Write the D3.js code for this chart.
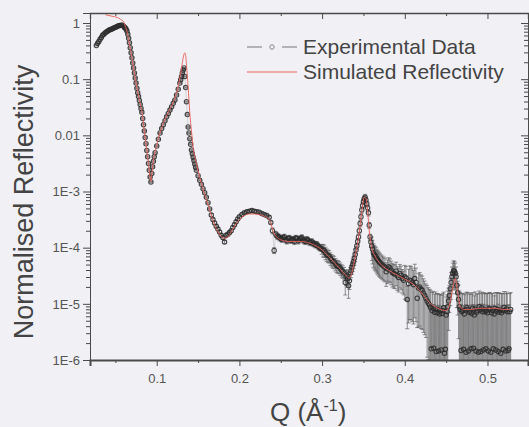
<!DOCTYPE html>
<html>
<head>
<meta charset="utf-8">
<script src="https://cdn.jsdelivr.net/npm/d3@7"></script>
<style>
	html, body { margin: 0; padding: 0; background: #f0f0f5; }
	svg { display: block; }
	text { font-family: Arial, "Liberation Sans", sans-serif; }
</style>
</head>
<body>
<svg id="chart" width="529" height="427"></svg>
<script>
//刻度
var xMajorTicks = [0.1, 0.2, 0.3, 0.4, 0.5];
var xMinorTicks = [0.05, 0.15, 0.25, 0.35, 0.45];
var yMajorTicks = [1, 0.1, 0.01, 1e-3, 1e-4, 1e-5, 1e-6];
var yTickLabels = ["1", "0.1", "0.01", "1E-3", "1E-4", "1E-5", "1E-6"];
var legendLabels = ["Experimental Data", "Simulated Reflectivity"];

//实验数据 [Q, R, 相对误差]
var experimental = [
	[0.027, 0.398, 0.02], [0.0285, 0.437, 0.02], [0.030, 0.468, 0.02], [0.0315, 0.513, 0.02], [0.033, 0.550, 0.02],
	[0.0345, 0.603, 0.02], [0.036, 0.631, 0.02], [0.0375, 0.661, 0.02], [0.039, 0.692, 0.02], [0.0405, 0.716, 0.02],
	[0.042, 0.741, 0.02], [0.0435, 0.759, 0.02], [0.045, 0.776, 0.02], [0.0465, 0.794, 0.02], [0.048, 0.813, 0.02],
	[0.0495, 0.832, 0.02], [0.051, 0.851, 0.02], [0.0525, 0.871, 0.02], [0.054, 0.891, 0.02], [0.0555, 0.902, 0.02],
	[0.057, 0.912, 0.02], [0.0585, 0.912, 0.02], [0.060, 0.871, 0.02], [0.061, 0.832, 0.02], [0.062, 0.813, 0.02],
	[0.063, 0.776, 0.02], [0.064, 0.724, 0.02], [0.065, 0.631, 0.02], [0.066, 0.537, 0.02], [0.067, 0.447, 0.02],
	[0.068, 0.363, 0.02], [0.069, 0.295, 0.02], [0.070, 0.240, 0.02], [0.071, 0.195, 0.02], [0.072, 0.158, 0.02],
	[0.073, 0.129, 0.02], [0.074, 0.105, 0.02], [0.075, 0.0851, 0.02], [0.076, 0.0692, 0.02], [0.077, 0.0575, 0.02],
	[0.078, 0.0490, 0.02], [0.079, 0.0417, 0.02], [0.080, 0.0355, 0.02], [0.081, 0.0302, 0.02], [0.082, 0.0257, 0.02],
	[0.083, 0.0200, 0.02], [0.084, 0.0155, 0.02], [0.085, 0.0120, 0.02], [0.086, 9.12e-3, 0.02], [0.087, 7.08e-3, 0.02],
	[0.088, 5.37e-3, 0.02], [0.089, 4.17e-3, 0.02], [0.090, 3.16e-3, 0.02], [0.091, 2.40e-3, 0.02], [0.092, 1.82e-3, 0.02],
	[0.093, 1.48e-3, 0.02], [0.094, 2.09e-3, 0.02], [0.095, 2.75e-3, 0.02], [0.096, 3.47e-3, 0.02], [0.097, 4.17e-3, 0.02],
	[0.098, 4.90e-3, 0.02], [0.100, 6.46e-3, 0.02], [0.102, 8.51e-3, 0.02], [0.104, 0.0110, 0.02], [0.106, 0.0132, 0.02],
	[0.108, 0.0155, 0.02], [0.110, 0.0182, 0.02], [0.112, 0.0214, 0.02], [0.114, 0.0245, 0.02], [0.116, 0.0282, 0.02],
	[0.118, 0.0324, 0.02], [0.120, 0.0372, 0.02], [0.122, 0.0427, 0.02], [0.124, 0.0525, 0.02], [0.126, 0.0661, 0.02],
	[0.128, 0.0851, 0.02], [0.129, 0.0977, 0.02], [0.130, 0.112, 0.02], [0.131, 0.129, 0.02], [0.132, 0.145, 0.02],
	[0.133, 0.158, 0.02], [0.134, 0.112, 0.02], [0.135, 0.0708, 0.02], [0.136, 0.0398, 0.02], [0.137, 0.0234, 0.02],
	[0.138, 0.0141, 0.02], [0.139, 0.0110, 0.02], [0.140, 8.71e-3, 0.02], [0.141, 6.92e-3, 0.02], [0.142, 5.50e-3, 0.02],
	[0.143, 4.68e-3, 0.02], [0.144, 4.07e-3, 0.02], [0.145, 3.55e-3, 0.02], [0.146, 3.09e-3, 0.02], [0.147, 2.69e-3, 0.02],
	[0.148, 2.40e-3, 0.02], [0.150, 1.91e-3, 0.02], [0.152, 1.58e-3, 0.02], [0.154, 1.35e-3, 0.02], [0.156, 1.12e-3, 0.02],
	[0.158, 9.55e-4, 0.02], [0.160, 7.94e-4, 0.02], [0.162, 6.31e-4, 0.02], [0.164, 4.90e-4, 0.02], [0.166, 3.80e-4, 0.06],
	[0.168, 3.16e-4, 0.06], [0.170, 2.75e-4, 0.06], [0.172, 2.40e-4, 0.06], [0.174, 2.14e-4, 0.06], [0.176, 1.91e-4, 0.06],
	[0.178, 1.66e-4, 0.06], [0.180, 1.51e-4, 0.06], [0.182, 1.26e-4, 0.06], [0.184, 1.66e-4, 0.06], [0.186, 1.74e-4, 0.06],
	[0.188, 1.86e-4, 0.06], [0.190, 2.00e-4, 0.06], [0.192, 2.29e-4, 0.06], [0.194, 2.57e-4, 0.06], [0.196, 2.88e-4, 0.06],
	[0.198, 3.24e-4, 0.06], [0.200, 3.55e-4, 0.06], [0.203, 3.89e-4, 0.06], [0.206, 4.17e-4, 0.06], [0.209, 4.37e-4, 0.06],
	[0.212, 4.47e-4, 0.06], [0.215, 4.57e-4, 0.06], [0.218, 4.47e-4, 0.06], [0.221, 4.37e-4, 0.06], [0.224, 4.27e-4, 0.06],
	[0.227, 4.07e-4, 0.06], [0.230, 3.89e-4, 0.06], [0.233, 3.72e-4, 0.06], [0.236, 3.47e-4, 0.06], [0.238, 2.82e-4, 0.06],
	[0.240, 2.00e-4, 0.12], [0.242, 8.91e-5, 0.12], [0.244, 1.74e-4, 0.12], [0.2455, 1.62e-4, 0.12], [0.247, 1.58e-4, 0.12],
	[0.2485, 1.51e-4, 0.12], [0.250, 1.45e-4, 0.12], [0.2515, 1.41e-4, 0.12], [0.253, 1.51e-4, 0.12], [0.2545, 1.55e-4, 0.12],
	[0.256, 1.38e-4, 0.12], [0.2575, 1.32e-4, 0.12], [0.259, 1.45e-4, 0.12], [0.2605, 1.48e-4, 0.12], [0.262, 1.35e-4, 0.12],
	[0.2635, 1.38e-4, 0.12], [0.265, 1.41e-4, 0.12], [0.2665, 1.29e-4, 0.12], [0.268, 1.48e-4, 0.12], [0.2695, 1.45e-4, 0.12],
	[0.271, 1.32e-4, 0.12], [0.2725, 1.38e-4, 0.12], [0.274, 1.45e-4, 0.12], [0.2755, 1.51e-4, 0.12], [0.277, 1.38e-4, 0.12],
	[0.2785, 1.32e-4, 0.12], [0.280, 1.29e-4, 0.12], [0.2815, 1.41e-4, 0.12], [0.283, 1.35e-4, 0.12], [0.2845, 1.26e-4, 0.12],
	[0.286, 1.23e-4, 0.12], [0.2875, 1.29e-4, 0.12], [0.289, 1.20e-4, 0.12], [0.2905, 1.17e-4, 0.12], [0.292, 1.12e-4, 0.12],
	[0.2935, 1.15e-4, 0.12], [0.295, 1.07e-4, 0.12], [0.2965, 1.02e-4, 0.12], [0.298, 9.77e-5, 0.12], [0.2995, 9.55e-5, 0.2],
	[0.301, 9.12e-5, 0.25], [0.3025, 8.91e-5, 0.25], [0.304, 8.13e-5, 0.25], [0.3055, 7.59e-5, 0.25], [0.307, 7.24e-5, 0.25],
	[0.3085, 7.08e-5, 0.25], [0.310, 6.46e-5, 0.25], [0.3115, 6.03e-5, 0.25], [0.313, 5.75e-5, 0.25], [0.3145, 5.62e-5, 0.25],
	[0.316, 5.13e-5, 0.25], [0.3175, 4.79e-5, 0.25], [0.319, 4.68e-5, 0.25], [0.3205, 4.57e-5, 0.25], [0.322, 4.27e-5, 0.25],
	[0.3235, 3.98e-5, 0.25], [0.325, 3.80e-5, 0.25], [0.3265, 3.55e-5, 0.25], [0.328, 2.40e-5, 0.4], [0.329, 3.02e-5, 0.3],
	[0.330, 3.24e-5, 0.25], [0.331, 2.82e-5, 0.3], [0.332, 2.09e-5, 0.4], [0.333, 2.57e-5, 0.3], [0.334, 3.55e-5, 0.25],
	[0.335, 3.89e-5, 0.25], [0.336, 4.47e-5, 0.25], [0.337, 5.01e-5, 0.25], [0.338, 5.62e-5, 0.25], [0.339, 6.46e-5, 0.25],
	[0.340, 7.59e-5, 0.25], [0.341, 9.12e-5, 0.15], [0.342, 1.07e-4, 0.12], [0.343, 1.29e-4, 0.12], [0.344, 1.55e-4, 0.12],
	[0.345, 2.00e-4, 0.12], [0.346, 2.69e-4, 0.12], [0.347, 3.55e-4, 0.12], [0.348, 4.68e-4, 0.12], [0.349, 5.62e-4, 0.12],
	[0.350, 6.61e-4, 0.12], [0.351, 7.41e-4, 0.12], [0.352, 7.94e-4, 0.12], [0.353, 7.08e-4, 0.12], [0.354, 6.03e-4, 0.12],
	[0.355, 5.13e-4, 0.12], [0.356, 4.17e-4, 0.12], [0.357, 2.51e-4, 0.12], [0.358, 1.55e-4, 0.12], [0.359, 1.26e-4, 0.2],
	[0.360, 1.07e-4, 0.45], [0.361, 9.33e-5, 0.45], [0.362, 8.13e-5, 0.45], [0.363, 7.59e-5, 0.45], [0.364, 7.24e-5, 0.45],
	[0.365, 6.92e-5, 0.45], [0.366, 6.46e-5, 0.45], [0.367, 6.17e-5, 0.45], [0.368, 5.89e-5, 0.45], [0.369, 5.62e-5, 0.45],
	[0.370, 5.37e-5, 0.45], [0.3715, 5.13e-5, 0.45], [0.373, 4.90e-5, 0.45], [0.3745, 4.68e-5, 0.45], [0.376, 4.47e-5, 0.45],
	[0.3775, 3.72e-5, 0.45], [0.379, 4.17e-5, 0.45], [0.3805, 4.57e-5, 0.45], [0.382, 4.37e-5, 0.45], [0.3835, 3.98e-5, 0.45],
	[0.385, 3.63e-5, 0.45], [0.3865, 3.47e-5, 0.45], [0.388, 3.39e-5, 0.45], [0.3895, 3.80e-5, 0.45], [0.391, 3.16e-5, 0.45],
	[0.3925, 2.95e-5, 0.45], [0.394, 3.47e-5, 0.45], [0.3955, 3.24e-5, 0.45], [0.397, 2.82e-5, 0.45], [0.3985, 2.63e-5, 0.45],
	[0.400, 3.02e-5, 0.6], [0.4015, 2.88e-5, 0.6], [0.403, 1.20e-5, 0.7], [0.4045, 2.29e-5, 0.8], [0.406, 2.63e-5, 0.8],
	[0.4075, 2.57e-5, 0.8], [0.409, 2.40e-5, 0.8], [0.4105, 2.19e-5, 0.8], [0.412, 2.82e-5, 0.8], [0.4135, 2.40e-5, 0.8],
	[0.415, 1.26e-5, 0.7], [0.4165, 1.91e-5, 0.8], [0.418, 2.00e-5, 0.8], [0.4195, 1.82e-5, 0.8], [0.421, 1.74e-5, 0.8],
	[0.4225, 1.55e-5, 0.8], [0.424, 1.41e-5, 0.8], [0.4255, 1.26e-5, 0.8], [0.427, 1.12e-5, 0.9], [0.4285, 1.02e-5, 0.9],
	[0.430, 9.55e-6, 0.9], [0.431, 8.71e-6, 1.0], [0.432, 1.58e-6, 5.0], [0.433, 7.59e-6, 1.1], [0.434, 8.32e-6, 1.0],
	[0.435, 1.62e-6, 5.0], [0.436, 7.08e-6, 1.1], [0.437, 8.13e-6, 1.0], [0.438, 1.41e-6, 5.5], [0.439, 6.92e-6, 1.2],
	[0.440, 7.94e-6, 0.9], [0.441, 1.45e-6, 5.5], [0.442, 6.61e-6, 1.2], [0.443, 7.41e-6, 1.0], [0.444, 1.51e-6, 5.0],
	[0.445, 6.76e-6, 1.1], [0.446, 7.59e-6, 1.0], [0.447, 8.51e-6, 0.9], [0.448, 1.32e-6, 6.0], [0.449, 1.55e-6, 5.0],
	[0.450, 6.31e-6, 1.1], [0.451, 7.24e-6, 1.0], [0.452, 8.91e-6, 0.9], [0.453, 1.12e-5, 0.7], [0.454, 1.41e-5, 0.5],
	[0.455, 1.86e-5, 0.5], [0.456, 2.40e-5, 0.5], [0.457, 3.02e-5, 0.5], [0.458, 3.55e-5, 0.5], [0.459, 3.89e-5, 0.5],
	[0.460, 3.80e-5, 0.5], [0.461, 3.55e-5, 0.5], [0.462, 3.02e-5, 0.5], [0.463, 2.14e-5, 0.6], [0.464, 1.58e-5, 0.6],
	[0.465, 1.20e-5, 0.8], [0.466, 8.91e-6, 0.9], [0.467, 7.94e-6, 1.0], [0.468, 1.48e-6, 5.5], [0.469, 7.24e-6, 1.1],
	[0.470, 7.59e-6, 1.0], [0.471, 1.55e-6, 5.0], [0.472, 6.61e-6, 1.2], [0.473, 7.76e-6, 1.0], [0.474, 1.38e-6, 6.0],
	[0.475, 8.51e-6, 0.9], [0.476, 7.94e-6, 1.0], [0.477, 1.45e-6, 5.5], [0.478, 7.08e-6, 1.1], [0.479, 7.41e-6, 1.1],
	[0.480, 1.58e-6, 5.0], [0.481, 6.76e-6, 1.2], [0.482, 8.32e-6, 0.9], [0.483, 1.62e-6, 5.0], [0.484, 6.31e-6, 1.2],
	[0.485, 8.13e-6, 1.0], [0.486, 1.45e-6, 5.5], [0.487, 7.08e-6, 1.1], [0.488, 7.59e-6, 1.0], [0.489, 1.38e-6, 6.0],
	[0.490, 8.91e-6, 0.9], [0.491, 7.76e-6, 1.0], [0.492, 1.41e-6, 6.0], [0.493, 8.51e-6, 0.9], [0.494, 7.24e-6, 1.1],
	[0.495, 1.51e-6, 5.5], [0.496, 7.94e-6, 1.0], [0.497, 7.24e-6, 1.1], [0.498, 1.58e-6, 5.0], [0.499, 7.59e-6, 1.0],
	[0.500, 6.92e-6, 1.2], [0.501, 1.45e-6, 5.5], [0.502, 8.32e-6, 0.9], [0.503, 7.94e-6, 1.0], [0.504, 1.38e-6, 5.5],
	[0.505, 6.92e-6, 1.2], [0.506, 7.59e-6, 1.0], [0.507, 1.58e-6, 5.0], [0.508, 6.61e-6, 1.1], [0.509, 8.32e-6, 0.9],
	[0.510, 1.51e-6, 5.0], [0.511, 7.41e-6, 1.1], [0.512, 7.94e-6, 1.0], [0.513, 1.41e-6, 6.0], [0.514, 7.08e-6, 1.2],
	[0.515, 7.76e-6, 1.0], [0.516, 1.32e-6, 6.0], [0.517, 6.92e-6, 1.2], [0.518, 7.59e-6, 1.0], [0.519, 1.55e-6, 5.0],
	[0.520, 8.71e-6, 0.9], [0.521, 7.59e-6, 1.0], [0.522, 1.45e-6, 5.5], [0.523, 8.13e-6, 1.0], [0.524, 7.24e-6, 1.1],
	[0.525, 1.48e-6, 5.5], [0.526, 1.58e-6, 5.0], [0.527, 7.24e-6, 1.1], [0.528, 7.94e-6, 1.0]
];

//模拟曲线 [Q, R]
var simulated = [
	[0.038, 1.40], [0.046, 1.32], [0.052, 1.26], [0.056, 1.17], [0.060, 1.05], [0.062, 0.871], [0.064, 0.708],
	[0.066, 0.501], [0.068, 0.347], [0.070, 0.240], [0.072, 0.158], [0.074, 0.105], [0.076, 0.0708], [0.078, 0.0501],
	[0.080, 0.0372], [0.082, 0.0269], [0.084, 0.0158], [0.086, 9.33e-3], [0.088, 5.50e-3], [0.090, 3.16e-3],
	[0.092, 1.74e-3], [0.093, 1.51e-3], [0.094, 2.00e-3], [0.096, 3.55e-3], [0.098, 5.13e-3], [0.100, 6.76e-3],
	[0.104, 0.0112], [0.108, 0.0162], [0.112, 0.0224], [0.116, 0.0295], [0.120, 0.0389], [0.124, 0.0575],
	[0.128, 0.105], [0.130, 0.158], [0.132, 0.240], [0.134, 0.295], [0.135, 0.263], [0.136, 0.178], [0.138, 0.0708],
	[0.140, 0.0251], [0.142, 0.0120], [0.144, 6.31e-3], [0.146, 4.17e-3], [0.148, 3.16e-3], [0.152, 1.78e-3],
	[0.156, 1.10e-3], [0.160, 7.24e-4], [0.164, 4.68e-4], [0.168, 3.02e-4], [0.172, 2.19e-4], [0.176, 1.74e-4],
	[0.180, 1.48e-4], [0.184, 1.48e-4], [0.188, 1.70e-4], [0.192, 2.14e-4], [0.196, 2.69e-4], [0.200, 3.16e-4],
	[0.206, 3.72e-4], [0.212, 3.98e-4], [0.218, 3.98e-4], [0.224, 3.89e-4], [0.230, 3.63e-4], [0.235, 3.31e-4],
	[0.238, 2.75e-4], [0.241, 1.91e-4], [0.245, 1.55e-4], [0.250, 1.38e-4], [0.260, 1.29e-4], [0.270, 1.29e-4],
	[0.280, 1.26e-4], [0.290, 1.12e-4], [0.300, 9.12e-5], [0.310, 6.46e-5], [0.320, 4.47e-5], [0.328, 3.31e-5],
	[0.333, 2.88e-5], [0.336, 3.55e-5], [0.340, 7.08e-5], [0.344, 1.48e-4], [0.348, 4.37e-4], [0.351, 7.94e-4],
	[0.353, 7.59e-4], [0.355, 4.47e-4], [0.357, 2.00e-4], [0.360, 1.00e-4], [0.364, 7.08e-5], [0.370, 5.25e-5],
	[0.380, 3.98e-5], [0.390, 3.31e-5], [0.400, 2.75e-5], [0.410, 2.24e-5], [0.420, 1.58e-5], [0.430, 1.05e-5],
	[0.440, 8.32e-6], [0.450, 7.59e-6], [0.454, 9.55e-6], [0.458, 1.91e-5], [0.461, 2.82e-5], [0.464, 1.58e-5],
	[0.467, 8.91e-6], [0.472, 7.94e-6], [0.480, 7.94e-6], [0.490, 8.32e-6], [0.500, 8.32e-6], [0.510, 8.32e-6],
	[0.520, 7.94e-6], [0.528, 7.94e-6]
];

var svg = d3.select("#chart");
//绘图区边界 (不要用 top, 它是 window 的只读属性)
var pLeft = 90, pRight = 528, pTop = 13, pBottom = 360;

var x = d3.scaleLinear().domain([0.0193, 0.549]).range([pLeft, pRight]);
var y = d3.scaleLog().domain([1e-6, 1.507]).range([pBottom, pTop]);

var axisColor = "#4a4a4a";
var labelColor = "#555";

function clip() {
	svg.append("defs").append("clipPath")
		.attr("id", "plotClip")
		.append("rect")
		.attr("x", pLeft)
		.attr("y", pTop)
		.attr("width", pRight - pLeft)
		.attr("height", pBottom - pTop);
}

//坐标轴
function axes() {
	var yMinor = y.ticks().filter(function(d) {
		return yMajorTicks.indexOf(d) < 0;
	});

	function style(g, w) {
		g.select(".domain").attr("stroke", axisColor).attr("stroke-width", w || 1);
		g.selectAll(".tick line").attr("stroke", axisColor);
		g.selectAll(".tick text")
			.attr("fill", labelColor)
			.style("font-size", "13px");
	}

	function minor(g) {
		g.select(".domain").remove();
		g.selectAll("line").attr("stroke", axisColor);
	}

	//底部
	var gx = svg.append("g")
		.attr("transform", "translate(0," + pBottom + ")")
		.call(d3.axisBottom(x).tickValues(xMajorTicks).tickSize(6).tickPadding(8).tickFormat(d3.format("")));
	style(gx, 2);
	svg.append("g")
		.attr("transform", "translate(0," + pBottom + ")")
		.call(d3.axisBottom(x).tickValues(xMinorTicks).tickSize(3).tickFormat(""))
		.call(minor);

	//顶部
	var gt = svg.append("g")
		.attr("transform", "translate(0," + pTop + ")")
		.call(d3.axisTop(x).tickValues(xMajorTicks).tickSize(-6).tickFormat(""));
	style(gt, 1.3);
	svg.append("g")
		.attr("transform", "translate(0," + pTop + ")")
		.call(d3.axisTop(x).tickValues(xMinorTicks).tickSize(-3).tickFormat(""))
		.call(minor);

	//左侧
	var gy = svg.append("g")
		.attr("transform", "translate(" + pLeft + ",0)")
		.call(d3.axisLeft(y).tickValues(yMajorTicks).tickSize(7).tickPadding(3)
			.tickFormat(function(d, i) { return yTickLabels[i]; }));
	style(gy, 1);
	svg.append("g")
		.attr("transform", "translate(" + pLeft + ",0)")
		.call(d3.axisLeft(y).tickValues(yMinor).tickSize(4).tickFormat(""))
		.call(minor);

	//右侧
	var gr = svg.append("g")
		.attr("transform", "translate(" + pRight + ",0)")
		.call(d3.axisRight(y).tickValues(yMajorTicks).tickSize(-7).tickFormat(""));
	style(gr, 1);
	svg.append("g")
		.attr("transform", "translate(" + pRight + ",0)")
		.call(d3.axisRight(y).tickValues(yMinor).tickSize(-4).tickFormat(""))
		.call(minor);
}

//误差棒
function errorBars() {
	var g = svg.append("g").attr("clip-path", "url(#plotClip)");
	var yLow = function(d) {
		var lo = d[1] * (1 - d[2]);
		return lo > 0 ? y(lo) : pBottom + 10;
	};
	var yHigh = function(d) { return y(d[1] * (1 + d[2])); };
	var bars = g.selectAll("g.err")
		.data(experimental)
		.enter()
		.append("g")
		.attr("class", "err")
		.attr("stroke", "#555")
		.attr("stroke-opacity", 0.7)
		.attr("stroke-width", 0.9);
	bars.append("line")
		.attr("x1", function(d) { return x(d[0]); })
		.attr("x2", function(d) { return x(d[0]); })
		.attr("y1", yLow)
		.attr("y2", yHigh);
	bars.append("line")
		.attr("x1", function(d) { return x(d[0]) - 2; })
		.attr("x2", function(d) { return x(d[0]) + 2; })
		.attr("y1", yHigh)
		.attr("y2", yHigh);
	bars.append("line")
		.attr("x1", function(d) { return x(d[0]) - 2; })
		.attr("x2", function(d) { return x(d[0]) + 2; })
		.attr("y1", yLow)
		.attr("y2", yLow);
}

//实验点
function points() {
	var g = svg.append("g").attr("clip-path", "url(#plotClip)");
	var line = d3.line()
		.x(function(d) { return x(d[0]); })
		.y(function(d) { return y(d[1]); });
	g.append("path")
		.datum(experimental)
		.attr("d", line)
		.attr("fill", "none")
		.attr("stroke", "#777")
		.attr("stroke-opacity", 0.35)
		.attr("stroke-width", 0.7);
	g.selectAll("circle")
		.data(experimental)
		.enter()
		.append("circle")
		.attr("cx", function(d) { return x(d[0]); })
		.attr("cy", function(d) { return y(d[1]); })
		.attr("r", 2.2)
		.attr("fill", "none")
		.attr("stroke", "#2a2a2a")
		.attr("stroke-opacity", 0.85)
		.attr("stroke-width", 1.1);
}

//模拟曲线
function simLine() {
	var g = svg.append("g").attr("clip-path", "url(#plotClip)");
	var line = d3.line()
		.curve(d3.curveMonotoneX)
		.x(function(d) { return x(d[0]); })
		.y(function(d) { return y(d[1]); });
	g.append("path")
		.datum(simulated)
		.attr("d", line)
		.attr("fill", "none")
		.attr("stroke", "#e8625a")
		.attr("stroke-opacity", 0.9)
		.attr("stroke-width", 1);
}

//图例
function legend() {
	var g = svg.append("g");
	var x0 = 247, x1 = 297, tx = 303;
	var rows = [47, 72];
	g.append("line").attr("x1", x0).attr("x2", x0 + 15).attr("y1", rows[0]).attr("y2", rows[0])
		.attr("stroke", "#777").attr("stroke-width", 1);
	g.append("line").attr("x1", x1 - 15).attr("x2", x1).attr("y1", rows[0]).attr("y2", rows[0])
		.attr("stroke", "#777").attr("stroke-width", 1);
	g.append("circle").attr("cx", (x0 + x1) / 2).attr("cy", rows[0]).attr("r", 2.2)
		.attr("fill", "none").attr("stroke", "#888");
	g.append("line").attr("x1", x0).attr("x2", x1).attr("y1", rows[1]).attr("y2", rows[1])
		.attr("stroke", "#e8625a").attr("stroke-width", 1);
	g.selectAll("text")
		.data(legendLabels)
		.enter()
		.append("text")
		.attr("x", tx)
		.attr("y", function(d, i) { return rows[i] + 7; })
		.attr("fill", "#444")
		.style("font-size", "21px")
		.text(function(d) { return d; });
}

//坐标轴标题
function titles() {
	svg.append("text")
		.attr("transform", "translate(33,202) rotate(-90)")
		.attr("text-anchor", "middle")
		.attr("fill", "#444")
		.style("font-size", "27px")
		.text("Normalised Reflectivity");
	var t = svg.append("text")
		.attr("x", 270)
		.attr("y", 421)
		.attr("fill", "#444")
		.style("font-size", "26px");
	t.append("tspan").text("Q (Å");
	t.append("tspan").attr("dy", -10).style("font-size", "16px").text("-1");
	t.append("tspan").attr("dy", 10).text(")");
}

clip();
errorBars();
points();
simLine();
axes();
legend();
titles();
</script>
</body>
</html>
